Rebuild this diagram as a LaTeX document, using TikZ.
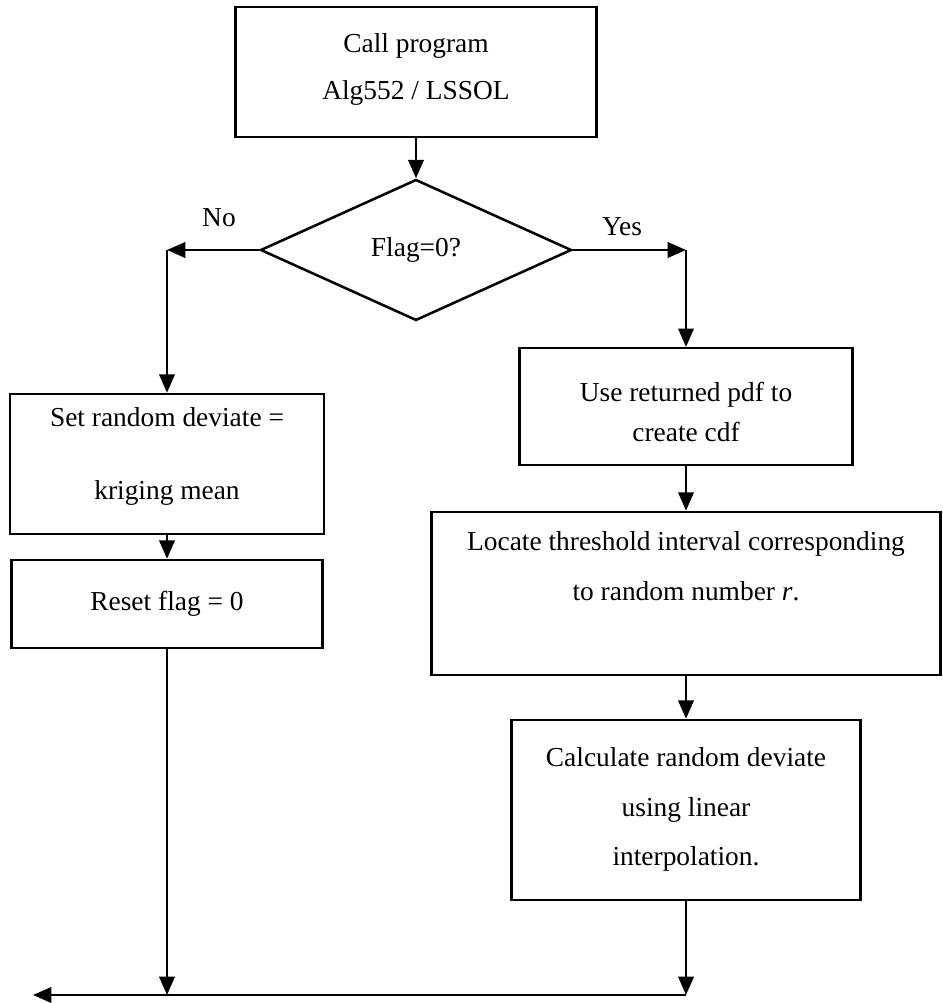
\documentclass[tikz,border=0pt]{standalone}
\usepackage{fontspec}
\setmainfont{Liberation Serif}
\usetikzlibrary{arrows.meta,shapes.geometric}

\begin{document}
\begin{tikzpicture}[
  >={Triangle[length=13pt,width=11pt]},
  box/.style={draw, line width=1.8pt, align=center, inner sep=0pt},
  textlift/.style={text height=#1, text depth=0pt},
  every node/.style={font=\fontsize{19.5}{35.5}\selectfont},
  flow/.style={->, line width=1.5pt}
]

\useasboundingbox (0,0) rectangle (23.575,25.075);

\node (call) at (10.4,23.275) [box, textlift=1.4cm, minimum width=9.025cm, minimum height=3.25cm]
  {Call program\\[-1.5pt] Alg552 / LSSOL};
\node (flag) at (10.4,18.825) [box, shape=diamond, minimum width=7.775cm, minimum height=3.525cm]
  {Flag=0?};

\node (setmean) at (4.175,13.475) [box, textlift=1.8cm, minimum width=7.85cm, minimum height=3.5cm]
  {Set random deviate =\\[16.5pt] kriging mean};
\node (reset) at (4.175,9.975) [box, minimum width=7.775cm, minimum height=2.2cm]
  {Reset flag = 0};

\node (usepdf) at (17.15,14.91) [box, textlift=1.725cm, minimum width=8.325cm, minimum height=2.925cm]
  {Use returned pdf to\\[-7pt] create cdf};
\node (locate) at (17.15,10.24) [box, textlift=0.375cm, minimum width=12.725cm, minimum height=4.075cm]
  {Locate threshold interval corresponding\\ to random number \textit{r}.};
\node (calc) at (17.15,4.825) [box, textlift=2.8cm, minimum width=8.725cm, minimum height=4.5cm]
  {Calculate random deviate\\ using linear\\ interpolation.};

\node (no) at (5.475,19.625) {No};
\node (yes) at (15.55,19.4) {Yes};

\coordinate (noturn) at (4.175,18.825);
\coordinate (yesturn) at (17.15,18.825);
\coordinate (joinL) at (4.175,0.2);
\coordinate (joinR) at (17.15,0.2);
\coordinate (exit) at (0.825,0.2);

\draw[flow] (call) -- (flag);
\draw[flow] (flag.west) -- (noturn);
\draw[flow] (noturn) -- (setmean);
\draw[flow] (flag.east) -- (yesturn);
\draw[flow] (yesturn) -- (usepdf);
\draw[flow] (setmean) -- (reset);
\draw[flow] (usepdf) -- (locate);
\draw[flow] (locate) -- (calc);
\draw[flow] (reset) -- (joinL);
\draw[flow] (calc) -- (joinR);
\draw[flow] (joinR) -- (exit);

\end{tikzpicture}
\end{document}
